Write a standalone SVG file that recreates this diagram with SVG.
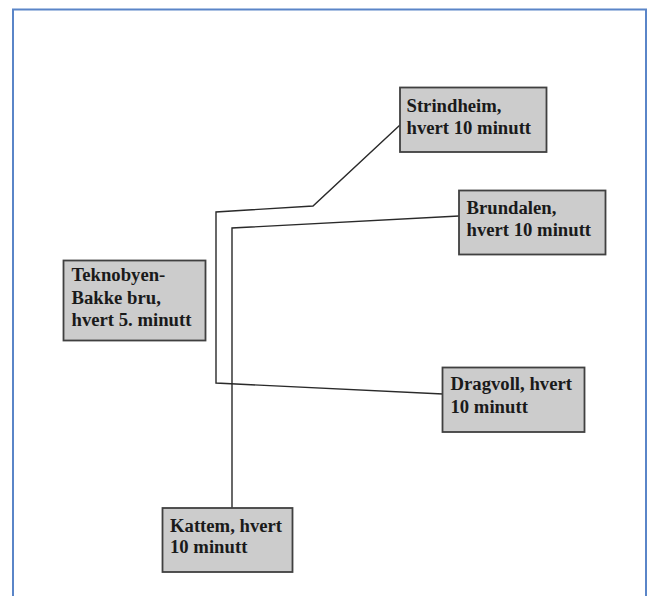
<svg xmlns="http://www.w3.org/2000/svg" width="653" height="596" viewBox="0 0 653 596">
<style>
.box{fill:#cccccc;stroke:#404040;stroke-width:1.8}
.lbl{font-family:"Liberation Serif","Times New Roman",serif;font-weight:bold;font-size:18.7px;fill:#1a1a1a}
.con{fill:none;stroke:#2a2a2a;stroke-width:1.4}
</style>
<rect x="0" y="0" width="653" height="596" fill="#ffffff"/>
<rect x="13" y="9.5" width="633" height="600" fill="none" stroke="#5a85c8" stroke-width="2"/>
<g id="connectors">
<polyline class="con" points="400,125 313,206 216,212 216,383 443,394"/>
<polyline class="con" points="459,216 232,228 232,508"/>
</g>
<g id="strindheim">
<rect class="box" x="400" y="87.5" width="146.5" height="64.5"/>
<text class="lbl" x="406.5" y="111.5">Strindheim,</text>
<text class="lbl" x="406.5" y="133.5">hvert 10 minutt</text>
</g>
<g id="brundalen">
<rect class="box" x="459" y="190.5" width="146.5" height="64"/>
<text class="lbl" x="466.5" y="213.5">Brundalen,</text>
<text class="lbl" x="466.5" y="235.5">hvert 10 minutt</text>
</g>
<g id="teknobyen">
<rect class="box" x="63.5" y="260.5" width="142" height="80"/>
<text class="lbl" x="71.5" y="281">Teknobyen-</text>
<text class="lbl" x="71.5" y="303.5">Bakke bru,</text>
<text class="lbl" x="71.5" y="326">hvert 5. minutt</text>
</g>
<g id="dragvoll">
<rect class="box" x="442.5" y="367.5" width="142" height="64.5"/>
<text class="lbl" x="450.5" y="390">Dragvoll, hvert</text>
<text class="lbl" x="450.5" y="413">10 minutt</text>
</g>
<g id="kattem">
<rect class="box" x="162.5" y="508" width="130" height="64"/>
<text class="lbl" x="170" y="531.5">Kattem, hvert</text>
<text class="lbl" x="170" y="553">10 minutt</text>
</g>
</svg>
